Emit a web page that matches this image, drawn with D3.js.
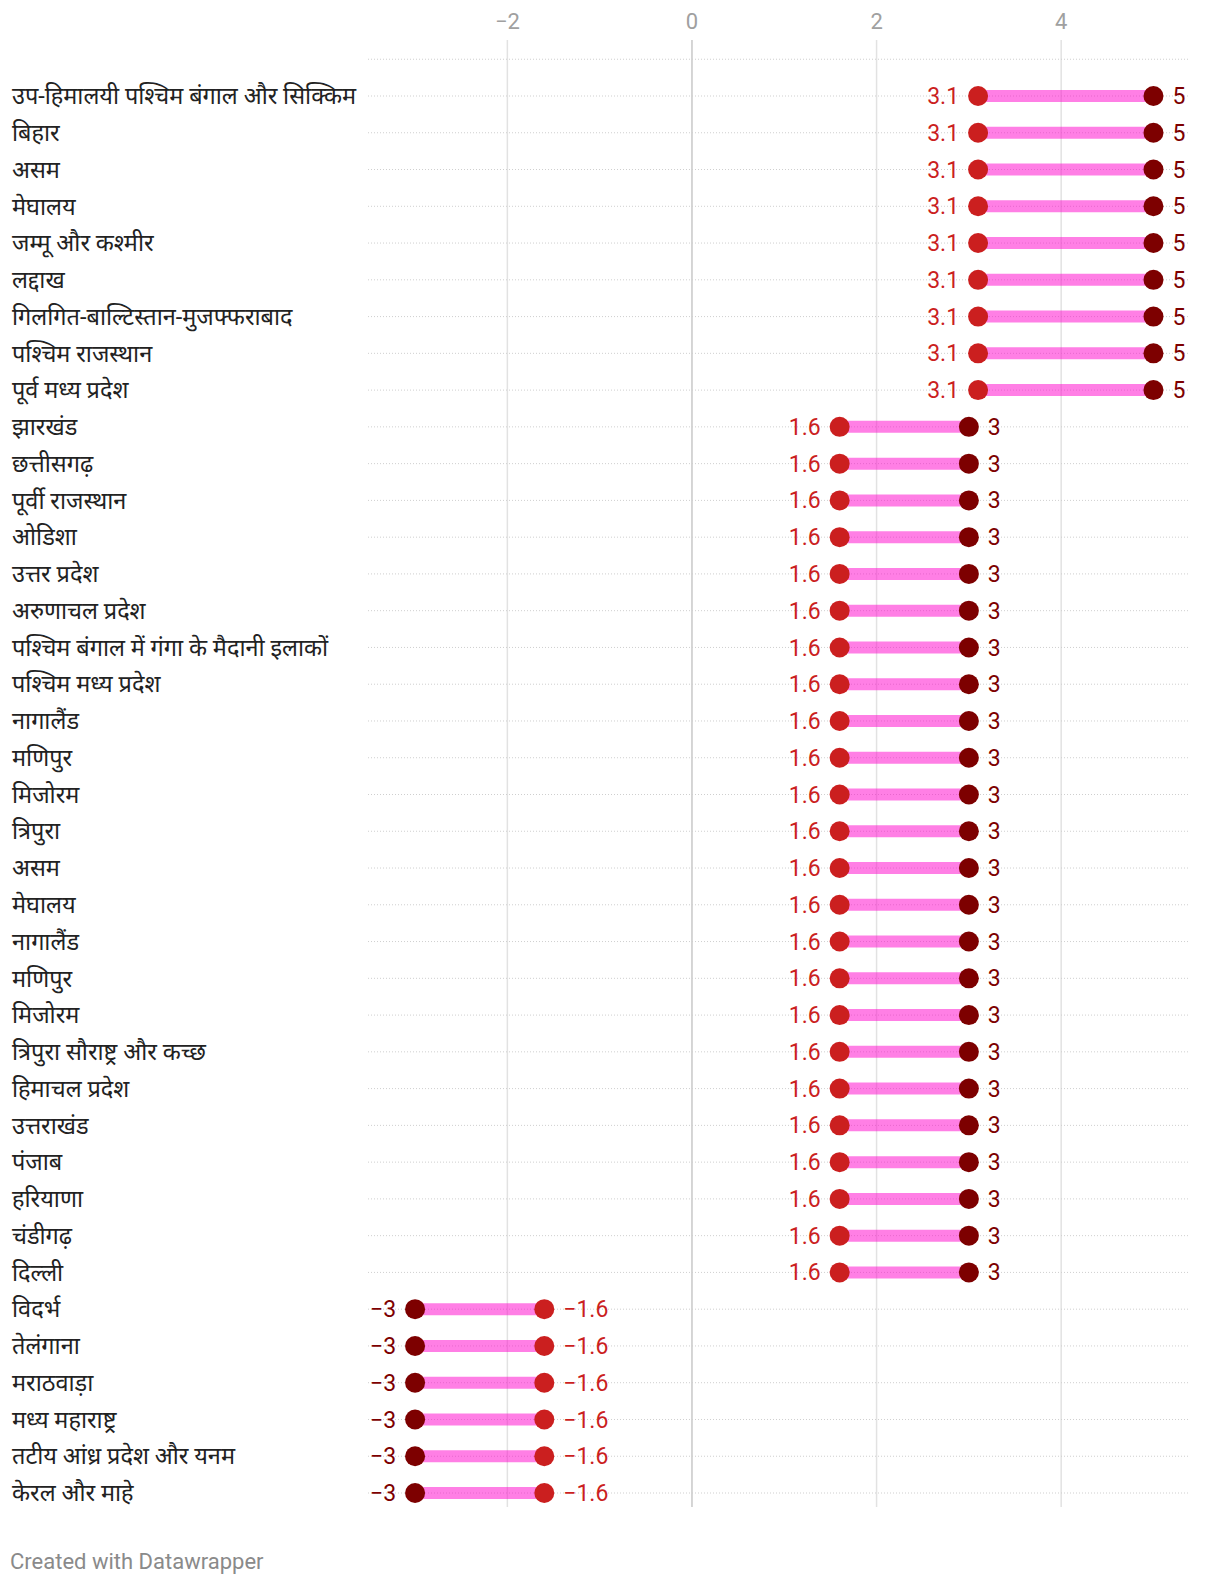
<!DOCTYPE html>
<html>
<head>
<meta charset="utf-8">
<script src="https://cdn.jsdelivr.net/npm/d3@7"></script>
<style>
  body { margin: 0; background: #fff; }
  svg text { font-family: Roboto, "Noto Sans", sans-serif; }
</style>
</head>
<body>
<div id="chart"></div>
<script>
// regions, top to bottom
var regions = [
  "उप-हिमालयी पश्चिम बंगाल और सिक्किम", "बिहार", "असम", "मेघालय", "जम्मू और कश्मीर",
  "लद्दाख", "गिलगित-बाल्टिस्तान-मुजफ्फराबाद", "पश्चिम राजस्थान", "पूर्व मध्य प्रदेश",
  "झारखंड", "छत्तीसगढ़", "पूर्वी राजस्थान", "ओडिशा", "उत्तर प्रदेश", "अरुणाचल प्रदेश",
  "पश्चिम बंगाल में गंगा के मैदानी इलाकों", "पश्चिम मध्य प्रदेश", "नागालैंड", "मणिपुर",
  "मिजोरम", "त्रिपुरा", "असम", "मेघालय", "नागालैंड", "मणिपुर", "मिजोरम",
  "त्रिपुरा सौराष्ट्र और कच्छ", "हिमाचल प्रदेश", "उत्तराखंड", "पंजाब", "हरियाणा",
  "चंडीगढ़", "दिल्ली", "विदर्भ", "तेलंगाना", "मराठवाड़ा", "मध्य महाराष्ट्र",
  "तटीय आंध्र प्रदेश और यनम", "केरल और माहे"
];

// red series
var lowValues = [
  3.1, 3.1, 3.1, 3.1, 3.1, 3.1, 3.1, 3.1, 3.1,
  1.6, 1.6, 1.6, 1.6, 1.6, 1.6, 1.6, 1.6, 1.6, 1.6, 1.6, 1.6,
  1.6, 1.6, 1.6, 1.6, 1.6, 1.6, 1.6, 1.6, 1.6, 1.6, 1.6, 1.6,
  -1.6, -1.6, -1.6, -1.6, -1.6, -1.6
];

// dark red series
var highValues = [
  5, 5, 5, 5, 5, 5, 5, 5, 5,
  3, 3, 3, 3, 3, 3, 3, 3, 3, 3, 3, 3,
  3, 3, 3, 3, 3, 3, 3, 3, 3, 3, 3, 3,
  -3, -3, -3, -3, -3, -3
];

var tickValues = [-2, 0, 2, 4];

var width = 1220, height = 1586;
var redColor = "#cb1f1f", darkColor = "#7d0000";

var svg = d3.select("#chart").append("svg")
  .attr("width", width)
  .attr("height", height);

var x = d3.scaleLinear().domain([-3.51, 5.385]).range([368, 1189]);
var y = d3.scalePoint().domain(d3.range(regions.length)).range([96, 1493]);
var step = y.step();
var fmt = d3.format(".1~f");

// vertical grid
svg.append("g")
  .selectAll("line")
  .data(tickValues)
  .enter()
  .append("line")
  .attr("x1", function (d) { return x(d); })
  .attr("x2", function (d) { return x(d); })
  .attr("y1", 40)
  .attr("y2", 1507)
  .attr("stroke", function (d) { return d === 0 ? "#c8c8c8" : "#e2e2e2"; })
  .attr("stroke-width", 1.5);

svg.append("g")
  .selectAll("text")
  .data(tickValues)
  .enter()
  .append("text")
  .attr("x", function (d) { return x(d); })
  .attr("y", 29)
  .attr("text-anchor", "middle")
  .attr("fill", "#a0a0a0")
  .style("font-size", "22px")
  .text(function (d) { return fmt(d); });

// dotted row lines (plus one on top)
var rowLines = [y(0) - step].concat(regions.map(function (d, i) { return y(i); }));
svg.append("g")
  .selectAll("line")
  .data(rowLines)
  .enter()
  .append("line")
  .attr("x1", x.range()[0])
  .attr("x2", x.range()[1])
  .attr("y1", function (d) { return d; })
  .attr("y2", function (d) { return d; })
  .attr("stroke", "#cfcfcf")
  .attr("stroke-width", 1)
  .attr("stroke-dasharray", "1,2");

// row labels
svg.append("g")
  .selectAll("text")
  .data(regions)
  .enter()
  .append("text")
  .attr("x", 12)
  .attr("y", function (d, i) { return y(i); })
  .attr("dy", "0.35em")
  .attr("fill", "#222")
  .style("font-size", "23.5px")
  .text(function (d) { return d; });

var rows = svg.append("g")
  .selectAll("g")
  .data(regions.map(function (d, i) { return { lo: lowValues[i], hi: highValues[i], i: i }; }))
  .enter()
  .append("g")
  .attr("transform", function (d) { return "translate(0," + y(d.i) + ")"; });

rows.append("line")
  .attr("x1", function (d) { return x(d.lo); })
  .attr("x2", function (d) { return x(d.hi); })
  .attr("stroke", "rgba(255,0,204,0.5)")
  .attr("stroke-width", 12);

rows.append("circle")
  .attr("cx", function (d) { return x(d.lo); })
  .attr("r", 10)
  .attr("fill", redColor);

rows.append("circle")
  .attr("cx", function (d) { return x(d.hi); })
  .attr("r", 10)
  .attr("fill", darkColor);

// value labels go outward from the range
function addLabel(key, color) {
  rows.append("text")
    .attr("x", function (d) {
      var other = key === "lo" ? d.hi : d.lo;
      return d[key] < other ? x(d[key]) - 19 : x(d[key]) + 19;
    })
    .attr("dy", "0.35em")
    .attr("text-anchor", function (d) {
      var other = key === "lo" ? d.hi : d.lo;
      return d[key] < other ? "end" : "start";
    })
    .attr("fill", color)
    .style("font-size", "23px")
    .text(function (d) { return fmt(d[key]); });
}
addLabel("lo", redColor);
addLabel("hi", darkColor);

svg.append("text")
  .attr("x", 10)
  .attr("y", 1569)
  .attr("fill", "#8a8a8a")
  .style("font-size", "22px")
  .text("Created with Datawrapper");
</script>
</body>
</html>
